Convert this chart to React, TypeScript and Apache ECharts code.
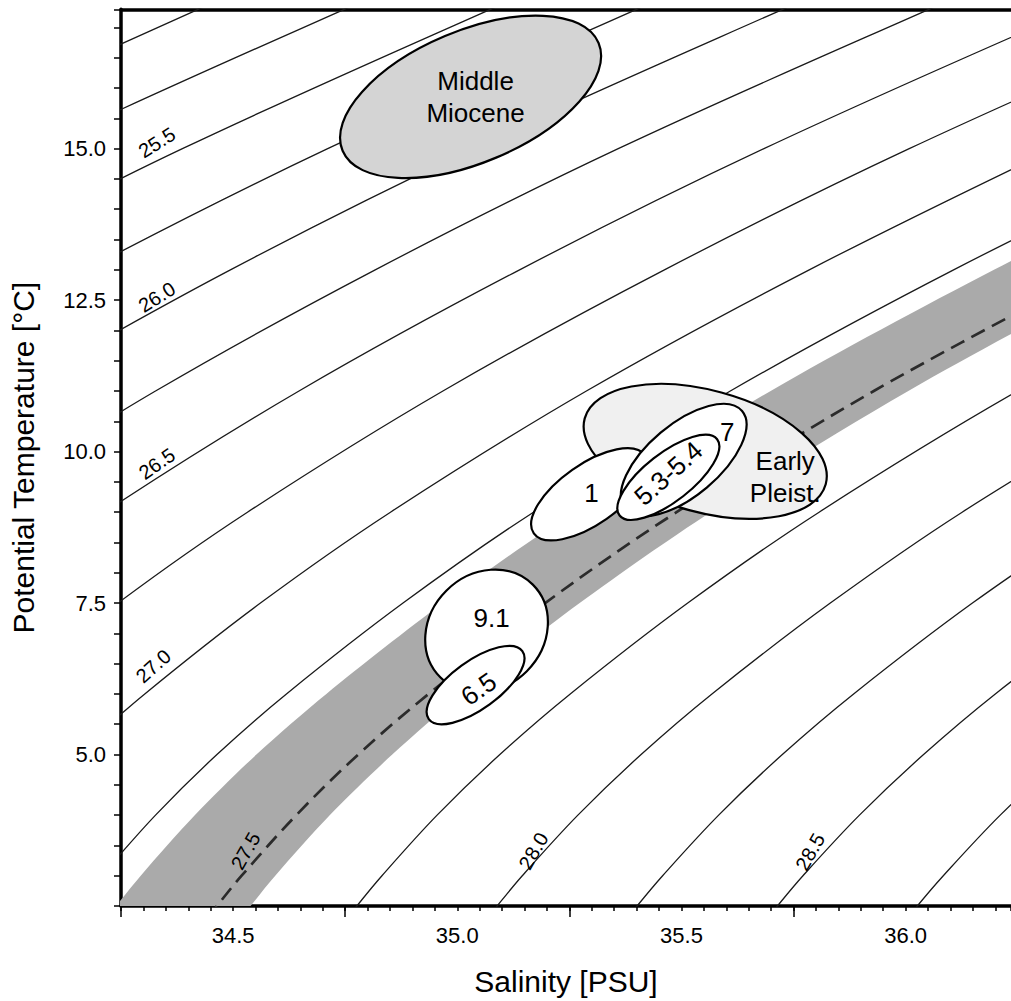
import { useEffect, useRef } from "react";
import * as echarts from "echarts";

// ---- axes ----
const salinityMin = 34.25;
const salinityMax = 36.235;
const temperatureMin = 2.5;
const temperatureMax = 17.3;
const xLabelValues = [34.5, 35.0, 35.5, 36.0];
const xMajorTickValues = [34.25, 34.75, 35.25, 35.75];
const yLabelValues = [5.0, 7.5, 10.0, 12.5, 15.0];

// ---- isopycnals (sigma-theta), points [salinity, temperature] ----
const isoLevels = [25.0, 25.25, 25.5, 25.75, 26.0, 26.25, 26.5, 26.75, 27.0, 27.25, 27.75, 28.0, 28.25, 28.5, 28.75];
const isoLines: number[][][] = [
  [[33.738, 15], [34.422, 17.3], [34.645, 18]],
  [[33.526, 13], [34.062, 15], [34.748, 17.3], [34.971, 18]],
  [[33.849, 13], [34.387, 15], [35.074, 17.3], [35.298, 18]],
  [[33.686, 11], [34.172, 13], [34.711, 15], [35.4, 17.3], [35.624, 18]],
  [[34.006, 11], [34.494, 13], [35.035, 15], [35.726, 17.3], [35.95, 18]],
  [[33.894, 9], [34.327, 11], [34.817, 13], [35.359, 15], [36.052, 17.3], [36.277, 18]],
  [[33.926, 7.5], [34.213, 9], [34.647, 11], [35.139, 13], [35.684, 15], [36.378, 17.3]],
  [[33.987, 6], [34.243, 7.5], [34.532, 9], [34.968, 11], [35.462, 13], [36.008, 15], [36.704, 17.3]],
  [[34.149, 5], [34.303, 6], [34.561, 7.5], [34.851, 9], [35.288, 11], [35.785, 13], [36.332, 15]],
  [[34.1, 2], [34.151, 2.5], [34.207, 3], [34.327, 4], [34.464, 5], [34.619, 6], [34.879, 7.5], [35.17, 9], [35.609, 11], [36.107, 13], [36.656, 15]],
  [[34.724, 2], [34.776, 2.5], [34.832, 3], [34.955, 4], [35.095, 5], [35.252, 6], [35.514, 7.5], [35.807, 9], [36.25, 11], [36.752, 13]],
  [[35.036, 2], [35.089, 2.5], [35.145, 3], [35.269, 4], [35.41, 5], [35.568, 6], [35.832, 7.5], [36.126, 9], [36.571, 11]],
  [[35.348, 2], [35.401, 2.5], [35.458, 3], [35.583, 4], [35.725, 5], [35.884, 6], [36.149, 7.5], [36.445, 9]],
  [[35.66, 2], [35.714, 2.5], [35.771, 3], [35.897, 4], [36.04, 5], [36.2, 6], [36.467, 7.5]],
  [[35.973, 2], [36.026, 2.5], [36.084, 3], [36.211, 4], [36.356, 5], [36.516, 6]],
];

// dashed 27.5 isopycnal and the grey band around it
const isopycnal27_5 = [[34.412, 2], [34.464, 2.5], [34.519, 3], [34.641, 4], [34.779, 5], [34.936, 6], [35.196, 7.5], [35.489, 9], [35.929, 11], [36.43, 13]];
const bandUpper = [[34.099, 1], [34.142, 1.5], [34.187, 2], [34.239, 2.5], [34.294, 3], [34.415, 4], [34.552, 5], [34.708, 6], [34.968, 7.5], [35.259, 9], [35.699, 11], [36.197, 13], [36.747, 15], [37.3, 17]];
const bandLower = [[34.398, 1], [34.441, 1.5], [34.487, 2], [34.539, 2.5], [34.594, 3], [34.716, 4], [34.855, 5], [35.011, 6], [35.273, 7.5], [35.565, 9], [36.006, 11], [36.507, 13], [37.058, 15], [37.62, 17]];

// contour labels
const contourLabelText = ["25.5", "26.0", "26.5", "27.0", "27.5", "28.0", "28.5"];
const contourLabelS = [34.33, 34.33, 34.33, 34.322, 34.528, 35.17, 35.787];
const contourLabelT = [15.1, 12.55, 9.8, 6.46, 3.411, 3.41, 3.394];
const contourLabelAngle = [32, 32, 35, 42, 60, 60, 60];

// ellipses: centre (S, T), semi-axes (in salinity units), tilt (deg)
const ellipseNames = ["Middle Miocene", "Early Pleist.", "1", "7", "5.3-5.4", "9.1", "6.5"];
const ellipseS = [35.0297, 35.553, 35.2948, 35.505, 35.4708, 35.0653, 35.0408];
const ellipseT = [15.855, 10.004, 9.295, 9.86, 9.575, 7.04, 6.147];
const ellipseA = [0.3096, 0.2785, 0.1515, 0.17, 0.138, 0.146, 0.129];
const ellipseB = [0.147, 0.1359, 0.0668, 0.08, 0.0535, 0.127, 0.0535];
const ellipseAngle = [22.8, -15.3, 35, 40, 38, 45, 36];
const ellipseFill = ["#d4d4d4", "#f0f0f0", "#ffffff", "#ffffff", "#ffffff", "#ffffff", "#ffffff"];

// ellipse texts
const ellipseText = ["Middle\nMiocene", "Early\nPleist.", "1", "7", "5.3-5.4", "9.1", "6.5"];
const ellipseTextS = [35.0408, 35.7314, 35.2993, 35.6022, 35.4708, 35.0765, 35.0475];
const ellipseTextT = [15.855, 9.575, 9.311, 10.318, 9.641, 7.251, 6.081];
const ellipseTextAngle = [0, 0, 0, 0, 42, 0, 35];

const FONT = "'Liberation Sans', Arial, Helvetica, sans-serif";

function textLayer(
  name: string,
  xs: number[],
  ys: number[],
  texts: string[],
  angles: number[],
  fontSize: number,
  lineHeight: number
) {
  return {
    type: "custom",
    name,
    coordinateSystem: "cartesian2d",
    silent: true,
    clip: false,
    z: 6,
    data: xs.map((s, i) => [s, ys[i]]),
    renderItem: (params: any, api: any) => {
      const i = params.dataIndex;
      const c = api.coord([api.value(0), api.value(1)]);
      return {
        type: "text",
        x: c[0],
        y: c[1],
        rotation: (angles[i] * Math.PI) / 180,
        style: {
          text: texts[i],
          fill: "#000",
          fontSize,
          fontFamily: FONT,
          lineHeight,
          align: "center",
          verticalAlign: "middle",
        },
      };
    },
  };
}

export default function App() {
  const ref = useRef<HTMLDivElement>(null);

  useEffect(() => {
    const chart = echarts.init(ref.current as HTMLDivElement, null, { renderer: "svg" });

    const lineSeries = isoLines.map((pts, i) => ({
      type: "line",
      name: String(isoLevels[i]),
      data: pts,
      showSymbol: false,
      symbol: "none",
      smooth: 0.35,
      silent: true,
      clip: true,
      lineStyle: { color: "#1a1a1a", width: 1.3 },
      z: 2,
    }));

    const option: any = {
      animation: false,
      backgroundColor: "#ffffff",
      textStyle: { fontFamily: FONT },
      grid: { left: 120, right: 0, top: 9.3, bottom: 93.7, containLabel: false },
      xAxis: [
        {
          type: "value",
          position: "bottom",
          min: salinityMin,
          max: salinityMax,
          interval: 0.05,
          name: "Salinity [PSU]",
          nameLocation: "middle",
          nameGap: 60,
          nameTextStyle: { fontSize: 30, color: "#000", fontFamily: FONT },
          axisLine: { show: true, lineStyle: { color: "#000", width: 3.5 } },
          axisTick: { show: true, length: 5, lineStyle: { color: "#000", width: 1.5 } },
          axisLabel: {
            show: true,
            customValues: xLabelValues,
            formatter: (v: number) => v.toFixed(1),
            fontSize: 22,
            color: "#000",
            margin: 18,
            fontFamily: FONT,
          },
          splitLine: { show: false },
        },
        {
          type: "value",
          position: "bottom",
          min: salinityMin,
          max: salinityMax,
          interval: 0.5,
          axisLine: { show: false },
          axisTick: { show: true, length: 11, customValues: xMajorTickValues, lineStyle: { color: "#000", width: 1.5 } },
          axisLabel: { show: false },
          splitLine: { show: false },
        },
        {
          type: "value",
          position: "top",
          min: salinityMin,
          max: salinityMax,
          axisLine: { show: true, lineStyle: { color: "#000", width: 3.5 } },
          axisTick: { show: false },
          axisLabel: { show: false },
          splitLine: { show: false },
        },
      ],
      yAxis: [
        {
          type: "value",
          min: temperatureMin,
          max: temperatureMax,
          interval: 0.5,
          name: "Potential Temperature [°C]",
          nameLocation: "middle",
          nameGap: 83,
          nameTextStyle: { fontSize: 30, color: "#000", fontFamily: FONT },
          axisLine: { show: true, lineStyle: { color: "#000", width: 3.5 } },
          axisTick: { show: true, length: 7, lineStyle: { color: "#000", width: 1.5 } },
          axisLabel: {
            show: true,
            customValues: yLabelValues,
            formatter: (v: number) => v.toFixed(1),
            fontSize: 22,
            color: "#000",
            margin: 15,
            fontFamily: FONT,
          },
          splitLine: { show: false },
        },
      ],
      series: [
        ...lineSeries,
        {
          type: "custom",
          name: "band",
          coordinateSystem: "cartesian2d",
          clip: true,
          silent: true,
          data: [[35, 10]],
          z: 3,
          renderItem: (_params: any, api: any) => {
            const pts = bandUpper
              .map((p) => api.coord(p))
              .concat(bandLower.slice().reverse().map((p) => api.coord(p)));
            return {
              type: "polygon",
              shape: { points: pts, smooth: 0.3 },
              style: { fill: "#aaaaaa", stroke: null },
            };
          },
        },
        {
          type: "line",
          name: "27.5",
          data: isopycnal27_5,
          showSymbol: false,
          symbol: "none",
          smooth: 0.35,
          silent: true,
          clip: true,
          z: 4,
          lineStyle: { color: "#2b2b2b", width: 2.7, type: [15, 8] },
        },
        {
          type: "custom",
          name: "ellipses",
          coordinateSystem: "cartesian2d",
          silent: true,
          z: 5,
          data: ellipseS.map((s, i) => [s, ellipseT[i], i]),
          renderItem: (params: any, api: any) => {
            const i = params.dataIndex;
            const c = api.coord([api.value(0), api.value(1)]);
            const k = api.size([1, 0])[0];
            return {
              type: "ellipse",
              x: c[0],
              y: c[1],
              rotation: (ellipseAngle[i] * Math.PI) / 180,
              shape: { cx: 0, cy: 0, rx: ellipseA[i] * k, ry: ellipseB[i] * k },
              style: { fill: ellipseFill[i], stroke: "#000", lineWidth: 2.2 },
            };
          },
        },
        textLayer("ellipse labels", ellipseTextS, ellipseTextT, ellipseText, ellipseTextAngle, 26, 32),
        textLayer("contour labels", contourLabelS, contourLabelT, contourLabelText, contourLabelAngle, 20, 20),
      ],
    };

    chart.setOption(option);
    return () => chart.dispose();
  }, []);

  return (
    <div
      ref={ref}
      style={{ position: "fixed", left: 0, top: 0, width: 1011, height: 1001, background: "#fff" }}
    />
  );
}
